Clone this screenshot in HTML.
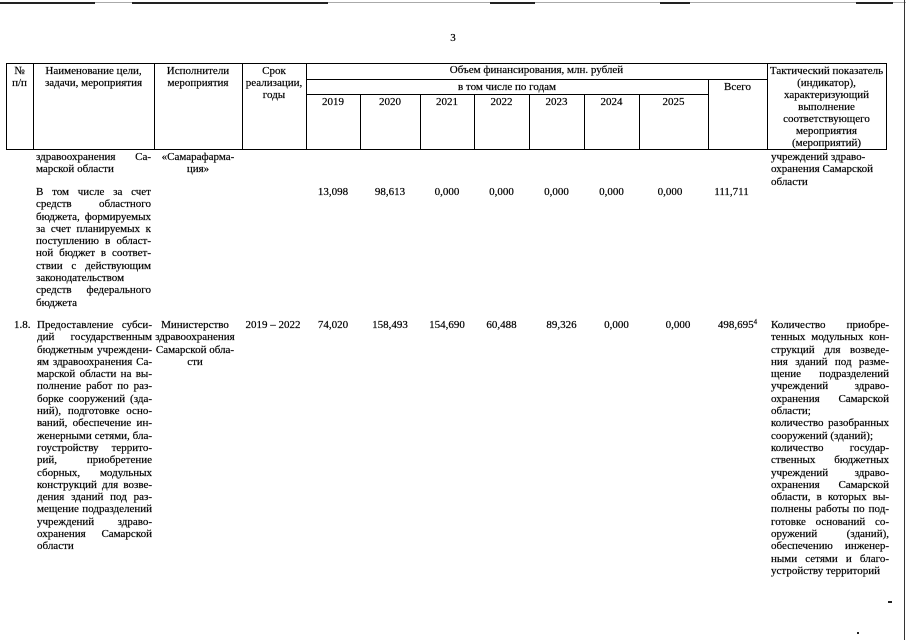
<!DOCTYPE html>
<html><head><meta charset="utf-8">
<style>
html,body{margin:0;padding:0;background:#fff;}
body{width:906px;height:640px;position:relative;overflow:hidden;font-family:"Liberation Serif","Noto Serif CJK SC",serif;font-size:11px;color:#000;-webkit-text-stroke:0.2px #000;}
.h{position:absolute;height:1px;background:#000;}
.v{position:absolute;width:1px;background:#000;}
.t{position:absolute;line-height:12px;text-align:center;white-space:nowrap;}
.p{position:absolute;}
.p div{height:12.3px;line-height:12.3px;overflow:hidden;white-space:normal;}
.j{text-align:justify;text-align-last:justify;}
.c{text-align:center;}
.n{position:absolute;line-height:12.3px;white-space:nowrap;text-align:center;}
.m{position:absolute;background:#222;}
</style></head><body>

<!-- scan artifacts -->
<div class="m" style="left:0;top:2px;width:906px;height:1px;background:#aaa"></div>
<div class="m" style="left:0;top:2px;width:95px;height:2px"></div>
<div class="m" style="left:132px;top:2px;width:196px;height:2px"></div>
<div class="m" style="left:490px;top:2px;width:45px;height:2px"></div>
<div class="m" style="left:660px;top:2px;width:30px;height:2px"></div>
<div class="m" style="left:856px;top:2px;width:37px;height:2px"></div>
<div class="m" style="left:904px;top:0;width:1px;height:640px;background:#333"></div>
<div class="m" style="left:888px;top:601px;width:4px;height:2px"></div>
<div class="m" style="left:857px;top:632px;width:2px;height:2px"></div>

<div class="t" style="left:446px;top:32px;width:14px">3</div>

<!-- table grid -->
<div class="h" style="left:6px;top:63px;width:881px"></div>
<div class="h" style="left:6px;top:149px;width:881px"></div>
<div class="v" style="left:6px;top:63px;height:87px"></div>
<div class="v" style="left:886px;top:63px;height:87px"></div>
<div class="v" style="left:33px;top:63px;height:87px"></div>
<div class="v" style="left:154px;top:63px;height:87px"></div>
<div class="v" style="left:242px;top:63px;height:87px"></div>
<div class="v" style="left:306px;top:63px;height:87px"></div>
<div class="v" style="left:767px;top:63px;height:87px"></div>
<div class="h" style="left:306px;top:79px;width:461px"></div>
<div class="h" style="left:306px;top:94px;width:402px"></div>
<div class="v" style="left:708px;top:79px;height:71px"></div>
<div class="v" style="left:360px;top:94px;height:56px"></div>
<div class="v" style="left:420px;top:94px;height:56px"></div>
<div class="v" style="left:474px;top:94px;height:56px"></div>
<div class="v" style="left:529px;top:94px;height:56px"></div>
<div class="v" style="left:584px;top:94px;height:56px"></div>
<div class="v" style="left:639px;top:94px;height:56px"></div>

<!-- header text -->
<div class="t" style="left:6px;top:65px;width:27px">№<br>п/п</div>
<div class="t" style="left:33px;top:65px;width:121px">Наименование цели,<br>задачи, мероприятия</div>
<div class="t" style="left:154px;top:65px;width:88px">Исполнители<br>мероприятия</div>
<div class="t" style="left:242px;top:65px;width:64px">Срок<br>реализации,<br>годы</div>
<div class="t" style="left:306px;top:64px;width:461px">Объем финансирования, млн. рублей</div>
<div class="t" style="left:306px;top:81px;width:402px">в том числе по годам</div>
<div class="t" style="left:708px;top:81px;width:59px">Всего</div>
<div class="t" style="left:306px;top:96px;width:54px">2019</div>
<div class="t" style="left:360px;top:96px;width:60px">2020</div>
<div class="t" style="left:420px;top:96px;width:54px">2021</div>
<div class="t" style="left:474px;top:96px;width:55px">2022</div>
<div class="t" style="left:529px;top:96px;width:55px">2023</div>
<div class="t" style="left:584px;top:96px;width:55px">2024</div>
<div class="t" style="left:639px;top:96px;width:69px">2025</div>
<div class="t" style="left:767px;top:65px;width:119px">Тактический показатель<br>(индикатор),<br>характеризующий<br>выполнение<br>соответствующего<br>мероприятия<br>(мероприятий)</div>

<!-- body: continuation row -->
<div class="p" style="left:36px;top:151px;width:115px">
<div class="j">здравоохранения Са-</div>
<div>марской области</div>
</div>
<div class="p" style="left:156px;top:151px;width:84px">
<div class="c">«Самарафарма-</div>
<div class="c">ция»</div>
</div>
<div class="p" style="left:771px;top:151px;width:118px">
<div>учреждений здраво-</div>
<div>охранения Самарской</div>
<div>области</div>
</div>

<!-- row: В том числе -->
<div class="p" style="left:36px;top:186px;width:115px">
<div class="j">В том числе за счет</div>
<div class="j">средств областного</div>
<div class="j">бюджета, формируемых</div>
<div class="j">за счет планируемых к</div>
<div class="j">поступлению в област-</div>
<div class="j">ной бюджет в соответ-</div>
<div class="j">ствии с действующим</div>
<div>законодательством</div>
<div class="j">средств федерального</div>
<div>бюджета</div>
</div>
<div class="n" style="left:306px;top:186px;width:54px">13,098</div>
<div class="n" style="left:360px;top:186px;width:60px">98,613</div>
<div class="n" style="left:420px;top:186px;width:54px">0,000</div>
<div class="n" style="left:474px;top:186px;width:55px">0,000</div>
<div class="n" style="left:529px;top:186px;width:55px">0,000</div>
<div class="n" style="left:584px;top:186px;width:55px">0,000</div>
<div class="n" style="left:639px;top:186px;width:62px">0,000</div>
<div class="n" style="left:702px;top:186px;width:59px">111,711</div>

<!-- row 1.8 -->
<div class="n" style="left:14px;top:319px;width:20px;text-align:left">1.8.</div>
<div class="p" style="left:37px;top:319px;width:115px">
<div class="j">Предоставление субси-</div>
<div class="j">дий государственным</div>
<div class="j">бюджетным учреждени-</div>
<div class="j">ям здравоохранения Са-</div>
<div class="j">марской области на вы-</div>
<div class="j">полнение работ по раз-</div>
<div class="j">борке сооружений (зда-</div>
<div class="j">ний), подготовке осно-</div>
<div class="j">ваний, обеспечение ин-</div>
<div class="j">женерными сетями, бла-</div>
<div class="j">гоустройству террито-</div>
<div class="j">рий, приобретение</div>
<div class="j">сборных, модульных</div>
<div class="j">конструкций для возве-</div>
<div class="j">дения зданий под раз-</div>
<div class="j">мещение подразделений</div>
<div class="j">учреждений здраво-</div>
<div class="j">охранения Самарской</div>
<div>области</div>
</div>
<div class="p" style="left:152px;top:319px;width:86px">
<div class="c">Министерство</div>
<div class="c">здравоохранения</div>
<div class="c">Самарской обла-</div>
<div class="c">сти</div>
</div>
<div class="n" style="left:244px;top:319px;width:58px">2019 – 2022</div>
<div class="n" style="left:306px;top:319px;width:54px">74,020</div>
<div class="n" style="left:360px;top:319px;width:60px">158,493</div>
<div class="n" style="left:420px;top:319px;width:54px">154,690</div>
<div class="n" style="left:474px;top:319px;width:55px">60,488</div>
<div class="n" style="left:534px;top:319px;width:55px">89,326</div>
<div class="n" style="left:589px;top:319px;width:55px">0,000</div>
<div class="n" style="left:647px;top:319px;width:62px">0,000</div>
<div class="n" style="left:708px;top:319px;width:59px">498,695<sup style="font-size:7px;vertical-align:4px;line-height:0">4</sup></div>
<div class="p" style="left:771px;top:319px;width:118px">
<div class="j">Количество приобре-</div>
<div class="j">тенных модульных кон-</div>
<div class="j">струкций для возведе-</div>
<div class="j">ния зданий под разме-</div>
<div class="j">щение подразделений</div>
<div class="j">учреждений здраво-</div>
<div class="j">охранения Самарской</div>
<div>области;</div>
<div class="j">количество разобранных</div>
<div>сооружений (зданий);</div>
<div class="j">количество государ-</div>
<div class="j">ственных бюджетных</div>
<div class="j">учреждений здраво-</div>
<div class="j">охранения Самарской</div>
<div class="j">области, в которых вы-</div>
<div class="j">полнены работы по под-</div>
<div class="j">готовке оснований со-</div>
<div class="j">оружений (зданий),</div>
<div class="j">обеспечению инженер-</div>
<div class="j">ными сетями и благо-</div>
<div>устройству территорий</div>
</div>

</body></html>
